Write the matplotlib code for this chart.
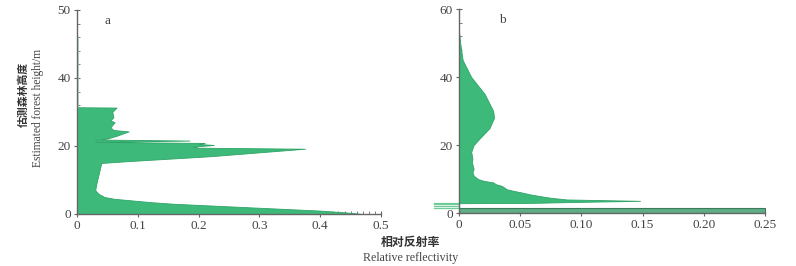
import matplotlib.pyplot as plt
import numpy as np
from matplotlib.ticker import MultipleLocator

plt.rcParams['font.family'] = ['Liberation Serif', 'Noto Sans CJK SC']

# panel a: estimated height (m) vs relative reflectivity
height_a = [0, 0.5, 1, 1.5, 2, 2.5, 3, 3.5, 4, 4.5, 5, 5.5, 6, 7, 9, 12, 15,
            15.5, 17, 19.2, 19.5, 19.8, 20.3, 20.6, 20.9, 21.2, 21.6, 21.9,
            22.2, 23, 24.3, 24.7, 25.5, 27, 27.5, 28.5, 30, 31.3, 31.4]
refl_a = [0.47, 0.44, 0.40, 0.34, 0.28, 0.22, 0.16, 0.12, 0.09, 0.06, 0.045,
          0.04, 0.035, 0.03, 0.032, 0.036, 0.04, 0.08, 0.22, 0.375, 0.2, 0.19,
          0.225, 0.20, 0.21, 0.03, 0.185, 0.03, 0.05, 0.065, 0.085, 0.06, 0.055,
          0.062, 0.055, 0.06, 0.058, 0.065, 0]
yticks_a = [0, 20, 40, 60]
ylabels_a = ['0', '20', '40', '50']   # as printed in the figure

# panel b
height_b = [1.5, 2.9, 3.0, 3.3, 3.6, 4, 4.5, 5, 5.5, 6, 6.5, 7, 7.5, 8, 8.5,
            9, 9.5, 10, 11, 12, 13, 15, 16, 18, 20, 22, 25, 28, 30, 35, 40,
            45, 50, 53.6]
refl_b = [0, 0, 0.06, 0.10, 0.148, 0.088, 0.075, 0.066, 0.058, 0.052, 0.045,
          0.039, 0.037, 0.035, 0.03, 0.028, 0.02, 0.0155, 0.012, 0.011, 0.012,
          0.0105, 0.011, 0.010, 0.012, 0.017, 0.025, 0.0286, 0.028, 0.021,
          0.010, 0.003, 0.001, 0]
band_b = 0.25      # ground return, 0-1.5 m
side_b = [1.6, 2.1, 2.6, 3.1]  # thin returns left of the axis

green = '#3dba7a'
edge = '#2fa468'
txt = '#444444'

fig = plt.figure(figsize=(7.96, 2.66), dpi=100)
ax1 = fig.add_axes([0.0967, 0.1955, 0.382, 0.767])
ax2 = fig.add_axes([0.5766, 0.199, 0.3844, 0.767])

ax1.fill_betweenx(height_a, 0, refl_a, color=green, lw=0.6, edgecolor=edge)
ax1.plot([0.001, 0.001], [31.4, 52], color='#a8e0bf', lw=1.2)
ax1.set_xlim(0, 0.5)
ax1.set_ylim(0, 60)
ax1.set_xticks([0, 0.1, 0.2, 0.3, 0.4, 0.5])
ax1.set_xticklabels(['0', '0.1', '0.2', '0.3', '0.4', '0.5'])
ax1.set_yticks(yticks_a)
ax1.set_yticklabels(ylabels_a)
ax1.xaxis.set_minor_locator(MultipleLocator(0.01))
ax1.yaxis.set_minor_locator(MultipleLocator(4))
ax1.text(0.09, 0.93, 'a', transform=ax1.transAxes, fontsize=9.5, color=txt)

ax2.fill_betweenx(height_b, 0, refl_b, color=green, lw=0.6, edgecolor=edge)
ax2.fill_betweenx([0, 1.5], 0, band_b, color='#5fae86', lw=0.8, edgecolor='#3d7a5c')
for h in side_b:
    ax2.plot([-0.02, 0.0], [h, h], color='#6fcb98', lw=0.9, clip_on=False)
ax2.set_xlim(0, 0.25)
ax2.set_ylim(0, 60)
ax2.set_xticks([0, 0.05, 0.10, 0.15, 0.20, 0.25])
ax2.set_xticklabels(['0', '0.05', '0.10', '0.15', '0.20', '0.25'])
ax2.set_yticks([0, 20, 40, 60])
ax2.xaxis.set_minor_locator(MultipleLocator(0.01))
ax2.yaxis.set_minor_locator(MultipleLocator(4))
ax2.text(0.13, 0.93, 'b', transform=ax2.transAxes, fontsize=9.5, color=txt)

for ax in (ax1, ax2):
    ax.set_axisbelow(True)
    for s in ('top', 'right'):
        ax.spines[s].set_visible(False)
    for s in ('left', 'bottom'):
        ax.spines[s].set_color('#666666')
        ax.spines[s].set_linewidth(1.0)
    ax.tick_params(which='major', direction='inout', length=5, width=0.8,
                   colors='#666666', labelcolor=txt, labelsize=9.5, pad=2)
    ax.tick_params(which='minor', direction='in', length=2.5, width=0.6,
                   colors='#666666')

fig.text(0.030, 0.647, '估测森林高度', rotation=90, ha='center', va='center',
         fontsize=7.8, color='#333333', family=['Noto Sans CJK SC'], weight='bold')
fig.text(0.048, 0.594, 'Estimated forest height/m', rotation=90, ha='center',
         va='center', fontsize=8.3, color=txt)
fig.text(0.516, 0.087, '相对反射率', ha='center', va='center', fontsize=8.6,
         color='#333333', family=['Noto Sans CJK SC'], weight='bold')
fig.text(0.516, 0.03, 'Relative reflectivity', ha='center', va='center',
         fontsize=8.6, color=txt)

fig.savefig('out.png', dpi=100, facecolor='white')
